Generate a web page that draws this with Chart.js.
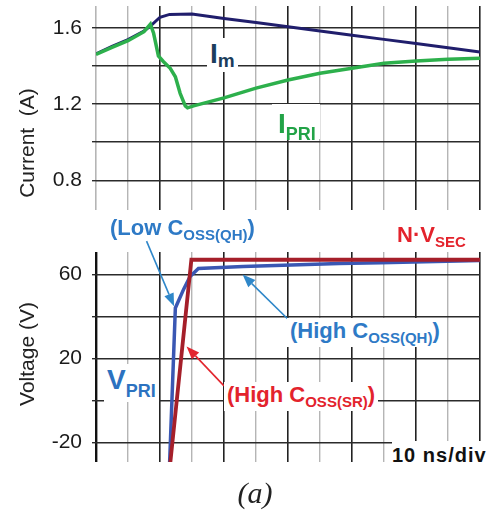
<!DOCTYPE html>
<html lang="en">
<head>
<meta charset="UTF-8">
<title>Primary current and voltage waveforms</title>
<script src="https://cdn.jsdelivr.net/npm/chart.js"></script>
<style>
  body { margin: 0; background: #fff; font-family: "Liberation Sans", Arial, sans-serif; }
  .wrap { position: relative; width: 491px; height: 514px; overflow: hidden; }
  canvas { position: absolute; left: 0; }
  #currentChart { top: 0; }
  #voltageChart { top: 230px; }
  .lbl { position: absolute; font-weight: bold; font-size: 22px; line-height: 1; white-space: nowrap; }
  .lbl sub { font-size: 15px; vertical-align: -5px; line-height: 1; }
  .bg { background: #fff; padding: 2px 3px; margin: -2px -3px; }
  .axis-title { position: absolute; font-size: 21px; color: #222; line-height: 1; white-space: nowrap;
                transform: translate(-50%, -50%) rotate(-90deg); }
  .caption { position: absolute; left: 255px; top: 478px; transform: translateX(-50%);
             font-family: "Liberation Serif", "Times New Roman", serif; font-style: italic; font-size: 30px; line-height: 1; color: #222; }
</style>
</head>
<body>
<div class="wrap">
  <canvas id="currentChart" width="491" height="230"></canvas>
  <canvas id="voltageChart" width="491" height="250"></canvas>

  <div class="axis-title" style="left:26px; top:143px;">Current&nbsp; (A)</div>
  <div class="axis-title" style="left:26px; top:354px;">Voltage (V)</div>

  <div class="lbl bg" style="left:210px; top:40px; font-size:28px; color:#1b3d5c;">I<sub style="font-size:19px; vertical-align:-4px;">m</sub></div>
  <div class="lbl" style="left:272px; top:104px; width:48px; height:35px; padding:6px 0 0 6px; box-sizing:border-box; background:#fff; font-size:28px; color:#22a347;">I<sub style="font-size:18px; vertical-align:-7px; line-height:0;">PRI</sub></div>

  <div class="lbl" style="left:110px; top:217px; color:#2e7ac6;">(Low C<sub>OSS(QH)</sub>)</div>
  <div class="lbl" style="left:397px; top:224px; color:#e3232c;">N·V<sub>SEC</sub></div>
  <div class="lbl bg" style="left:290px; top:320px; color:#2e7ac6;">(High C<sub>OSS(QH)</sub>)</div>
  <div class="lbl bg" style="left:107px; top:366px; font-size:28px; color:#2c72c0;">V<sub style="font-size:18px; vertical-align:-8px;">PRI</sub></div>
  <div class="lbl bg" style="left:227px; top:384px; color:#e3232c;">(High C<sub>OSS(SR)</sub>)</div>
  <div class="lbl" style="left:392px; top:441px; width:99px; height:26px; background:#fff; color:#111; font-size:20px; letter-spacing:1px; padding-top:4px; box-sizing:border-box;">10 ns/div</div>

  <div class="caption">(a)</div>
</div>

<script>
    // time axis: 10 ns per division
    const timeTicks = [0, 10, 20, 30, 40, 50, 60, 70, 80, 90, 100, 110, 120];

    // top panel: currents (A)
    const currentTicks = [0.8, 1.0, 1.2, 1.4, 1.6];
    const currentLabels = ['0.8', '', '1.2', '', '1.6'];
    const imTime = [0, 5, 10, 15, 17, 20, 23, 30, 40, 50, 60, 70, 80, 90, 100, 110, 120];
    const imCurrent = [1.463, 1.502, 1.538, 1.583, 1.608, 1.655, 1.670, 1.672, 1.649, 1.628, 1.605, 1.583, 1.561, 1.539, 1.517, 1.495, 1.473];
    const priTime = [0, 5, 10, 15, 17, 18, 19.5, 21.1, 23.2, 24.8, 26.3, 27.9, 28.6, 30.5, 40, 50, 60, 70, 80, 90, 100, 110, 120];
    const priCurrent = [1.460, 1.497, 1.532, 1.579, 1.619, 1.571, 1.452, 1.422, 1.387, 1.343, 1.256, 1.190, 1.180, 1.190, 1.232, 1.283, 1.326, 1.361, 1.387, 1.414, 1.426, 1.435, 1.440];

    // bottom panel: voltages (V)
    const voltTicks = [-20, 0, 20, 40, 60];
    const voltLabels = ['-20', '', '20', '', '60'];
    const vpriTime = [23.0, 24.8, 27.4, 29.4, 32, 46, 76, 89, 120];
    const vpriVolt = [-30, 44, 53, 59, 62.8, 63.8, 65.2, 65.6, 66.6];
    const nvsecTime = [23.2, 29.8, 120];
    const nvsecVolt = [-30, 67, 67];

    // annotation arrows, in data coordinates (time ns, volts)
    const arrows = [
        { from: [15.8, 75.9], to: [24.4, 44.8], color: '#2f87c9' },
        { from: [60.1, 38.5], to: [45.8, 60.0], color: '#2f87c9' },
        { from: [40.0, 6.9], to: [28.3, 25.7], color: '#e2262e' }
    ];

    const toPoints = (xs, ys) => xs.map((x, i) => ({ x: x, y: ys[i] }));

    const arrowPlugin = {
        id: 'arrows',
        afterDatasetsDraw(chart) {
            if (chart.canvas.id !== 'voltageChart') return;
            const c = chart.ctx, xs = chart.scales.x, ys = chart.scales.y;
            arrows.forEach(a => {
                const x1 = xs.getPixelForValue(a.from[0]), y1 = ys.getPixelForValue(a.from[1]);
                const x2 = xs.getPixelForValue(a.to[0]), y2 = ys.getPixelForValue(a.to[1]);
                const ang = Math.atan2(y2 - y1, x2 - x1);
                const len = 13, half = 5;
                const bx = x2 - len * Math.cos(ang), by = y2 - len * Math.sin(ang);
                c.save();
                c.strokeStyle = a.color;
                c.fillStyle = a.color;
                c.lineWidth = 1.6;
                c.beginPath();
                c.moveTo(x1, y1);
                c.lineTo(bx, by);
                c.stroke();
                c.beginPath();
                c.moveTo(x2, y2);
                c.lineTo(bx + half * Math.sin(ang), by - half * Math.cos(ang));
                c.lineTo(bx - half * Math.sin(ang), by + half * Math.cos(ang));
                c.closePath();
                c.fill();
                c.restore();
            });
        }
    };

    function makeChart(id, datasets, yMin, yMax, yTicks, yLabels, padTop, padBottom, firstLine) {
        return new Chart(document.getElementById(id), {
            type: 'line',
            data: { datasets: datasets },
            options: {
                responsive: false,
                animation: false,
                layout: { padding: { top: padTop, bottom: padBottom, left: 0, right: 11 } },
                plugins: { legend: { display: false }, tooltip: { enabled: false } },
                elements: { point: { radius: 0 }, line: { tension: 0 } },
                scales: {
                    x: {
                        type: 'linear',
                        min: 0,
                        max: 120,
                        afterBuildTicks: axis => { axis.ticks = timeTicks.map(v => ({ value: v })); },
                        afterFit: axis => { axis.height = 0; axis.paddingLeft = 0; axis.paddingRight = 0; },
                        ticks: { display: false },
                        border: { display: false },
                        grid: {
                            drawTicks: false,
                            color: ctx => {
                                const v = ctx.tick ? ctx.tick.value : 0;
                                if (v === 0) return firstLine;
                                return (v / 10) % 2 === 0 ? '#222' : '#b5b5b5';
                            },
                            lineWidth: ctx => {
                                const v = ctx.tick ? ctx.tick.value : 0;
                                if (v === 0) return firstLine === '#111' ? 2.4 : 1.6;
                                return (v / 10) % 2 === 0 ? 1.6 : 1.4;
                            }
                        }
                    },
                    y: {
                        min: yMin,
                        max: yMax,
                        afterBuildTicks: axis => { axis.ticks = yTicks.map(v => ({ value: v })); },
                        afterFit: axis => { axis.width = 96; axis.paddingTop = 0; axis.paddingBottom = 0; },
                        border: { display: false },
                        grid: { color: '#2b2b2b', lineWidth: 1.4, tickLength: 4, tickColor: '#2b2b2b' },
                        ticks: {
                            padding: 10,
                            color: '#1a1a1a',
                            font: { family: 'Liberation Sans', size: 21 },
                            callback: (value, index) => yLabels[index]
                        }
                    }
                }
            },
            plugins: [arrowPlugin]
        });
    }

    makeChart('currentChart', [
        { data: toPoints(priTime, priCurrent), borderColor: '#2db04c', borderWidth: 3.5 },
        { data: toPoints(imTime, imCurrent), borderColor: '#201e6c', borderWidth: 3 }
    ], 0.644, 1.714, currentTicks, currentLabels, 6, 20, '#b5b5b5');

    makeChart('voltageChart', [
        { data: toPoints(nvsecTime, nvsecVolt), borderColor: '#a51f2a', borderWidth: 3.8 },
        { data: toPoints(vpriTime, vpriVolt), borderColor: '#3a57b3', borderWidth: 3.5 }
    ], -29.4, 70.7, voltTicks, voltLabels, 22, 18, '#111');
</script>
</body>
</html>
